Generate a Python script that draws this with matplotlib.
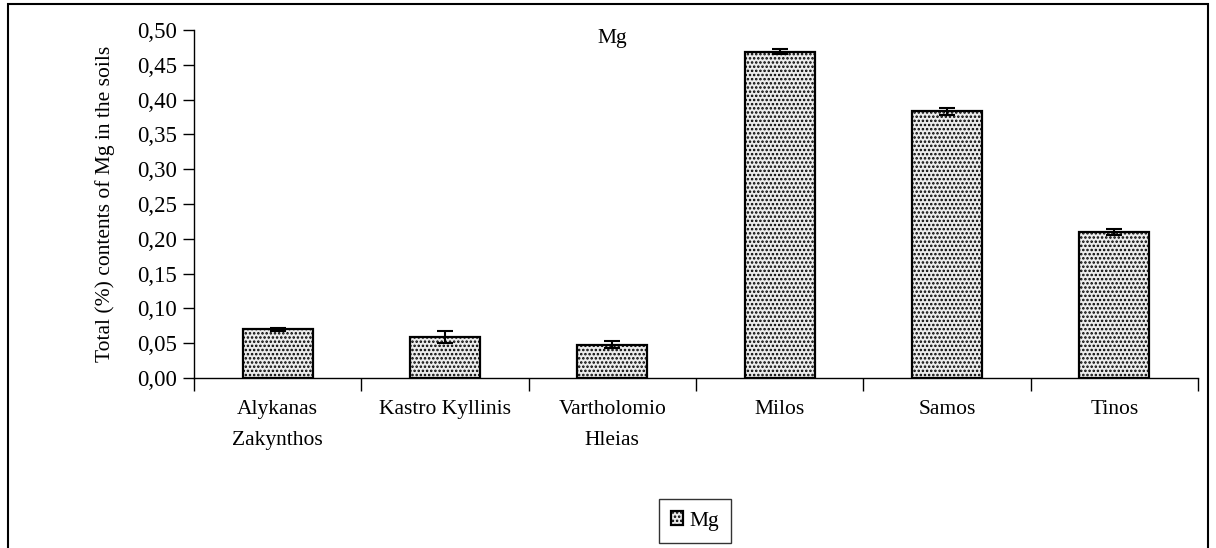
import matplotlib
matplotlib.use("Agg")
import numpy as np
import matplotlib.pyplot as plt
from matplotlib.patches import Rectangle
from matplotlib.ticker import FuncFormatter

plt.rcParams['font.family'] = ['Liberation Serif', 'DejaVu Serif']
plt.rcParams['hatch.color'] = '#555555'
plt.rcParams['hatch.linewidth'] = 1.2

sites = ["Alykanas\nZakynthos", "Kastro Kyllinis", "Vartholomio\nHleias",
         "Milos", "Samos", "Tinos"]
mg = [0.070, 0.059, 0.048, 0.469, 0.383, 0.210]
mg_err = [0.002, 0.008, 0.005, 0.004, 0.005, 0.004]

fig = plt.figure(figsize=(12.16, 5.48), dpi=100)
ax = fig.add_axes([194/1216, 1 - 378/548, (1198-194)/1216, (378-30)/548])

x = np.arange(len(sites))
ax.bar(x, mg, width=0.42, color='#ececec', edgecolor='black', linewidth=1.6,
       hatch='....', yerr=mg_err, capsize=6,
       error_kw=dict(elinewidth=1.5, capthick=1.5, ecolor='black'),
       label='Mg')

ax.set_xlim(-0.5, len(sites) - 0.5)
ax.set_ylim(0, 0.5)
ax.set_yticks(np.arange(0, 0.501, 0.05))
ax.yaxis.set_major_formatter(FuncFormatter(lambda v, p: f"{v:.2f}".replace('.', ',')))

# category ticks between the bars, labels at the bar centres
ax.set_xticks(np.arange(-0.5, len(sites)), minor=False)
ax.set_xticklabels([])
ax.set_xticks(x, minor=True)
ax.set_xticklabels(sites, minor=True, fontsize=15.5, linespacing=1.85, va='top')
ax.tick_params(axis='x', which='major', length=9, width=1, direction='out')
ax.tick_params(axis='x', which='minor', length=0, pad=16)
ax.tick_params(axis='y', length=8, width=1, labelsize=16.5, pad=4)

for side in ['top', 'right']:
    ax.spines[side].set_visible(False)
ax.spines['left'].set_linewidth(1)
ax.spines['bottom'].set_linewidth(1)

ax.set_ylabel("Total (%) contents of Mg in the soils", fontsize=15.5, labelpad=16)

fig.text(612/1216, 1 - 38/548, "Mg", fontsize=15.5, ha='center', va='center')

leg = fig.legend(loc='center', bbox_to_anchor=(695/1216, 1 - 521/548),
                 fontsize=15.5, frameon=True, fancybox=False, handlelength=0.6,
                 handleheight=0.6, handletextpad=0.3, borderpad=0.55)
leg.get_frame().set_edgecolor('black')
leg.get_frame().set_linewidth(1)

# outer chart border
fig.patches.append(Rectangle((8/1216, -0.05), (1208-8)/1216, 1 - 4/548 + 0.05,
                             transform=fig.transFigure, fill=False,
                             edgecolor='black', linewidth=1.5))

fig.savefig("out.png", dpi=100)
